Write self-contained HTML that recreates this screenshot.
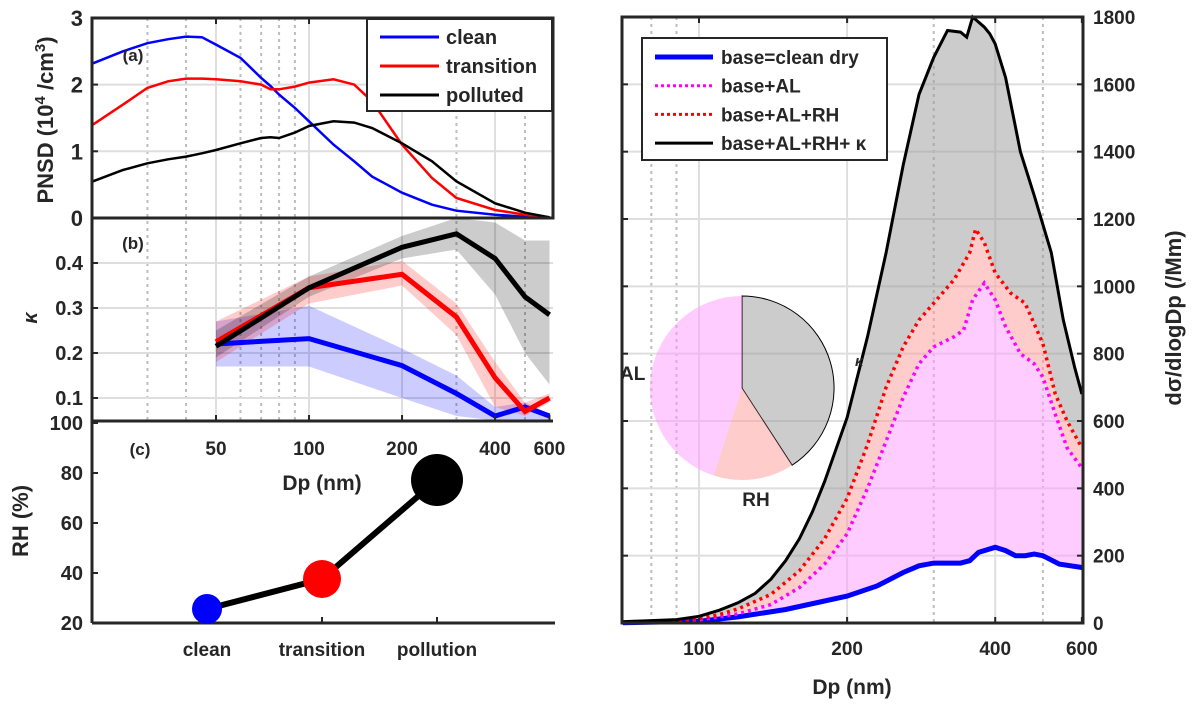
<!DOCTYPE html>
<html><head><meta charset="utf-8"><style>
body{margin:0;background:#fff}
svg text{font-family:"Liberation Sans",sans-serif;font-weight:bold;fill:#262626}
</style></head><body>
<svg id="s" width="1195" height="707" viewBox="0 0 1195 707" xmlns="http://www.w3.org/2000/svg"></svg>
<script>
// ---- Panel (a) PNSD ----
const aX = [20,25,30,35,40,45,50,60,70,75,80,90,100,120,140,160,200,250,300,400,500,600];
const aClean = [2.32,2.5,2.62,2.68,2.72,2.71,2.6,2.4,2.1,1.98,1.85,1.65,1.45,1.1,0.85,0.62,0.38,0.2,0.11,0.05,0.02,0.01];
const aTrans = [1.4,1.7,1.95,2.05,2.09,2.09,2.08,2.05,2.0,1.93,1.93,1.97,2.03,2.08,2.0,1.75,1.1,0.6,0.3,0.12,0.05,0.01];
const aPoll = [0.55,0.72,0.82,0.88,0.92,0.97,1.02,1.12,1.2,1.21,1.2,1.28,1.38,1.45,1.43,1.35,1.12,0.85,0.55,0.22,0.08,0.01];
const aYTicks = [0,1,2,3];
// ---- Panel (b) kappa ----
const bX = [50,100,200,300,400,500,600];
const bClean = [0.22,0.232,0.172,0.11,0.06,0.08,0.06];
const bCleanLo = [0.17,0.17,0.1,0.06,0.05,0.05,0.05];
const bCleanHi = [0.27,0.305,0.21,0.15,0.08,0.09,0.065];
const bTrans = [0.225,0.345,0.375,0.28,0.145,0.07,0.1];
const bTransLo = [0.18,0.31,0.35,0.24,0.08,0.06,0.09];
const bTransHi = [0.27,0.37,0.405,0.31,0.18,0.09,0.11];
const bPoll = [0.215,0.345,0.435,0.465,0.41,0.325,0.285];
const bPollLo = [0.19,0.325,0.41,0.43,0.33,0.2,0.13];
const bPollHi = [0.25,0.37,0.46,0.5,0.49,0.45,0.45];
const bYTicks = [0.1,0.2,0.3,0.4];
const abXTicks = [50,100,200,400,600];
// ---- Panel (c) RH ----
const cCats = ["clean","transition","pollution"];
const cRH = [25.6,37.6,77.2];
const cColors = ["#0000ff","#ff0000","#000000"];
const cSizes = [15,19,26];
const cYTicks = [20,40,60,80,100];
// ---- Right panel ----
const rBlackX = [70,90,100,110,120,130,140,150,160,170,180,200,220,240,260,280,300,320,340,350,360,380,390,400,420,450,480,520,550,580,600];
const rBlack = [4,10,20,38,60,88,130,185,250,330,420,610,850,1100,1360,1570,1680,1760,1755,1740,1800,1770,1750,1720,1620,1400,1270,1100,900,760,680];
const rRedX = [70,90,100,110,120,140,160,180,200,220,240,260,280,300,330,355,365,380,400,430,460,500,530,560,600];
const rRed = [3,7,13,25,42,85,155,250,370,530,700,820,900,950,1020,1100,1170,1130,1040,980,950,830,680,600,520];
const rMagX = [70,100,120,140,160,180,200,220,240,260,280,300,330,345,360,380,400,420,450,480,500,530,560,600];
const rMag = [2,9,27,55,105,175,265,400,540,670,770,820,850,870,960,1010,960,880,800,770,730,620,520,460];
const rBlueX = [70,100,120,150,200,230,260,280,300,340,355,370,400,420,440,460,480,500,540,600];
const rBlue = [1,5,18,40,80,110,150,170,178,178,185,210,225,215,200,200,205,200,175,165];
const rYTicks = [0,200,400,600,800,1000,1200,1400,1600,1800];
const rXTicks = [100,200,400,600];
const pieLabels = ["κ","RH","AL"];
const pieShares = [147,51,162];

const NS="http://www.w3.org/2000/svg", S=document.getElementById('s');
function el(t,a,p){const e=document.createElementNS(NS,t);for(const k in a)e.setAttribute(k,a[k]);(p||S).appendChild(e);return e;}
function txt(x,y,s,a){const e=el('text',Object.assign({x:x,y:y},a||{}));e.textContent=s;return e;}
const axL=92,axR=553,aT=18,aB=218,bB=421;
const lx=v=>216+309*Math.log10(v/50);
const ay=v=>aB-66.7*v;
const by=v=>aB+(0.5-v)*450;
const cy=v=>623-2.5*(v-20);
const rx=v=>699+492*Math.log10(v/100);
const ry=v=>623-v*606/1800;
function path(xs,ys,fx,fy){return xs.map((x,i)=>(i?'L':'M')+fx(x).toFixed(1)+','+fy(ys[i]).toFixed(1)).join('');}
function band(xs,lo,hi,fx,fy){let d=path(xs,hi,fx,fy);for(let i=xs.length-1;i>=0;i--)d+='L'+fx(xs[i]).toFixed(1)+','+fy(lo[i]).toFixed(1);return d+'Z';}

const defs=el('defs',{});
const c1=el('clipPath',{id:'cb'},defs);el('rect',{x:axL,y:aB,width:axR-axL,height:bB-aB},c1);
const c2=el('clipPath',{id:'ca'},defs);el('rect',{x:axL,y:aT,width:axR-axL,height:aB-aT},c2);

const gridL=el('g',{});

[30,40,60,70,80,90,300,500].forEach(v=>el('line',{x1:lx(v),x2:lx(v),y1:aT,y2:bB,stroke:'#bdbdbd','stroke-width':2,'stroke-dasharray':'3,4'},gridL));
[50,100,200,400].forEach(v=>el('line',{x1:lx(v),x2:lx(v),y1:aT,y2:bB,stroke:'#dedede','stroke-width':2},gridL));
[1,2].forEach(v=>el('line',{x1:axL,x2:axR,y1:ay(v),y2:ay(v),stroke:'#dedede','stroke-width':2},gridL));
bYTicks.forEach(v=>el('line',{x1:axL,x2:axR,y1:by(v),y2:by(v),stroke:'#dedede','stroke-width':2},gridL));

const ga=el('g',{'clip-path':'url(#ca)'});

[[aClean,'#0000ff','pnsd-clean'],[aTrans,'#ff0000','pnsd-transition'],[aPoll,'#000000','pnsd-polluted']].forEach(s=>{
 const p=el('path',{d:path(aX,s[0],lx,ay),fill:'none',stroke:s[1],'stroke-width':2.5},ga);
 });

const gb=el('g',{'clip-path':'url(#cb)'});

[[bCleanLo,bCleanHi,'#0000ff'],[bTransLo,bTransHi,'#ff0000'],[bPollLo,bPollHi,'#000000']].forEach(s=>{
 const p=el('path',{d:band(bX,s[0],s[1],lx,by),fill:s[2],'fill-opacity':0.2},gb);
 });
[[bClean,'#0000ff','kappa-clean'],[bTrans,'#ff0000','kappa-transition'],[bPoll,'#000000','kappa-polluted']].forEach(s=>{
 const p=el('path',{d:path(bX,s[0],lx,by),fill:'none',stroke:s[1],'stroke-width':5},gb);
 });

el('rect',{x:axL,y:aT,width:axR-axL,height:aB-aT,fill:'none',stroke:'#262626','stroke-width':3});
el('line',{x1:axL,x2:axR,y1:aB,y2:aB,stroke:'#262626','stroke-width':1});
el('line',{x1:axL,x2:axL,y1:aB,y2:bB,stroke:'#262626','stroke-width':3});
el('line',{x1:axL,x2:axR,y1:bB,y2:bB,stroke:'#262626','stroke-width':3});
abXTicks.forEach(v=>{el('line',{x1:lx(v),x2:lx(v),y1:bB,y2:bB-6,stroke:'#262626','stroke-width':2});
 el('line',{x1:lx(v),x2:lx(v),y1:aT,y2:aT+6,stroke:'#262626','stroke-width':2});
 const t=txt(lx(v),455,String(v),{'font-size':19,'text-anchor':'middle'});});
aYTicks.forEach(v=>{el('line',{x1:axL,x2:axL+6,y1:ay(v),y2:ay(v),stroke:'#262626','stroke-width':2});
 const t=txt(83,ay(v)+8,String(v),{'font-size':22,'text-anchor':'end'});});
bYTicks.forEach(v=>{el('line',{x1:axL,x2:axL+6,y1:by(v),y2:by(v),stroke:'#262626','stroke-width':2});
 const t=txt(83,by(v)+7,String(v),{'font-size':20,'text-anchor':'end'});});
let t;
t=txt(133,61,'(a)',{'font-size':17,'text-anchor':'middle'});
t=txt(133,249,'(b)',{'font-size':17,'text-anchor':'middle'});
t=txt(140,455,'(c)',{'font-size':17,'text-anchor':'middle'});
t=el('text',{x:0,y:0,'font-size':22,'text-anchor':'middle',transform:'translate(53,120) rotate(-90)'});
t.innerHTML='PNSD (10<tspan dy="-8" font-size="15">4</tspan><tspan dy="8"> /cm</tspan><tspan dy="-8" font-size="15">3</tspan><tspan dy="8">)</tspan>';

t=txt(0,0,'κ',{'font-size':20,'font-style':'italic','font-weight':'normal','text-anchor':'middle',transform:'translate(37,318) rotate(-90)'});
t=txt(322,490,'Dp (nm)',{'font-size':21,'text-anchor':'middle'});

const lg=el('g',{});
el('rect',{x:367,y:19,width:185,height:92,fill:'#fff',stroke:'#262626','stroke-width':2},lg);
[['clean','#0000ff'],['transition','#ff0000'],['polluted','#000000']].forEach((e,i)=>{
 const y=37+i*29;el('line',{x1:380,x2:439,y1:y,y2:y,stroke:e[1],'stroke-width':3},lg);
 const tt=txt(446,y+7,e[0],{'font-size':20,fill:'#000'},lg);});

const gc=el('g',{});
el('line',{x1:axL,x2:axL,y1:bB,y2:623,stroke:'#262626','stroke-width':3},gc);
el('line',{x1:axL,x2:555,y1:623,y2:623,stroke:'#262626','stroke-width':3},gc);
const cx=i=>207+115*i;
cYTicks.forEach(v=>{el('line',{x1:axL,x2:axL+6,y1:cy(v),y2:cy(v),stroke:'#262626','stroke-width':2},gc);
 const tt=txt(83,cy(v)+7,String(v),{'font-size':20,'text-anchor':'end'},gc);});
cCats.forEach((c,i)=>{el('line',{x1:cx(i),x2:cx(i),y1:623,y2:617,stroke:'#262626','stroke-width':2},gc);
 const tt=txt(cx(i),656,c,{'font-size':19,'text-anchor':'middle'},gc);});
el('path',{d:cRH.map((v,i)=>(i?'L':'M')+cx(i)+','+cy(v)).join(''),fill:'none',stroke:'#000','stroke-width':6},gc);
cRH.forEach((v,i)=>{const d=el('circle',{cx:cx(i),cy:cy(v),r:cSizes[i],fill:cColors[i]},gc);});
t=txt(0,0,'RH (%)',{'font-size':22,'text-anchor':'middle',transform:'translate(28,521) rotate(-90)'});

const RL=622,RR=1083,RT=17,RB=623;
const gr=el('g',{});
[80,90,300,500].forEach(v=>el('line',{x1:rx(v),x2:rx(v),y1:RT,y2:RB,stroke:'#bdbdbd','stroke-width':2,'stroke-dasharray':'3,4'},gr));
[100,200,400].forEach(v=>el('line',{x1:rx(v),x2:rx(v),y1:RT,y2:RB,stroke:'#dedede','stroke-width':2},gr));
rYTicks.slice(1,-1).forEach(v=>el('line',{x1:RL,x2:RR,y1:ry(v),y2:ry(v),stroke:'#dedede','stroke-width':2},gr));
function fillBetween(x1,y1,x2,y2,col,name){let d=path(x1,y1,rx,ry);for(let i=x2.length-1;i>=0;i--)d+='L'+rx(x2[i]).toFixed(1)+','+ry(y2[i]).toFixed(1);
 const p=el('path',{d:d+'Z',fill:col,'fill-opacity':0.5});}
fillBetween(rBlueX,rBlue,rMagX,rMag,'#ff99ff','fill-al');
fillBetween(rMagX,rMag,rRedX,rRed,'#ff9999','fill-rh');
fillBetween(rRedX,rRed,rBlackX,rBlack,'#999999','fill-kappa');
[[rBlueX,rBlue,'#0000ff',5,null,'line-base-clean-dry'],[rMagX,rMag,'#ff00ff',3.5,'3,4','line-base-al'],[rRedX,rRed,'#ff0000',3.5,'3,4','line-base-al-rh'],[rBlackX,rBlack,'#000',3,null,'line-base-al-rh-kappa']].forEach(s=>{
 const a={d:path(s[0],s[1],rx,ry),fill:'none',stroke:s[2],'stroke-width':s[3]};if(s[4])a['stroke-dasharray']=s[4];
 const p=el('path',a);});
const pc={x:742,y:388,r:92};const pieCols=['#999999','#ff9999','#ff99ff'];
let ang=0;const gp=el('g',{});
pieShares.forEach((s,i)=>{const a0=ang*Math.PI/180,a1=(ang+s)*Math.PI/180;ang+=s;
 const p=(a)=>(pc.x+pc.r*Math.sin(a)).toFixed(1)+','+(pc.y-pc.r*Math.cos(a)).toFixed(1);
 const sl=el('path',{d:'M'+pc.x+','+pc.y+'L'+p(a0)+'A'+pc.r+','+pc.r+' 0 '+(s>180?1:0)+' 1 '+p(a1)+'Z',fill:pieCols[i],'fill-opacity':0.5,stroke:i==0?'#000':'none','stroke-width':1},gp);
 });
t=txt(855,366,'κ',{'font-size':15,'font-style':'italic','font-weight':'normal',fill:'#000'});
t=txt(756,506,'RH',{'font-size':19,'font-weight':'normal','text-anchor':'middle',fill:'#000'});
t=txt(620,380,'AL',{'font-size':19,'font-weight':'normal',fill:'#000'});
el('rect',{x:RL,y:RT,width:RR-RL,height:RB-RT,fill:'none',stroke:'#262626','stroke-width':3});
rYTicks.forEach(v=>{el('line',{x1:RR,x2:RR-6,y1:ry(v),y2:ry(v),stroke:'#262626','stroke-width':2});el('line',{x1:RL,x2:RL+6,y1:ry(v),y2:ry(v),stroke:'#262626','stroke-width':2});
 const tt=txt(1093,ry(v)+7,String(v),{'font-size':19});});
rXTicks.forEach(v=>{el('line',{x1:rx(v),x2:rx(v),y1:RB,y2:RB-6,stroke:'#262626','stroke-width':2});el('line',{x1:rx(v),x2:rx(v),y1:RT,y2:RT+6,stroke:'#262626','stroke-width':2});
 const tt=txt(rx(v),655,String(v),{'font-size':19,'text-anchor':'middle'});});
t=txt(852,694,'Dp (nm)',{'font-size':21,'text-anchor':'middle'});
t=txt(0,0,'dσ/dlogDp (/Mm)',{'font-size':22,'text-anchor':'middle',transform:'translate(1181,318) rotate(-90)'});
const lr=el('g',{});
el('rect',{x:642,y:38,width:245,height:122,fill:'#fff',stroke:'#262626','stroke-width':2},lr);
[['base=clean dry','#0000ff',5,null],['base+AL','#ff00ff',3,'3,3'],['base+AL+RH','#ff0000',3,'3,3'],['base+AL+RH+ κ','#000',3,null]].forEach((e,i)=>{
 const y=57+i*28.7;const a={x1:655,x2:713,y1:y,y2:y,stroke:e[1],'stroke-width':e[2]};if(e[3])a['stroke-dasharray']=e[3];el('line',a,lr);
 const tt=txt(721,y+7,e[0],{'font-size':19,fill:'#000'},lr);});
</script>
</body></html>
